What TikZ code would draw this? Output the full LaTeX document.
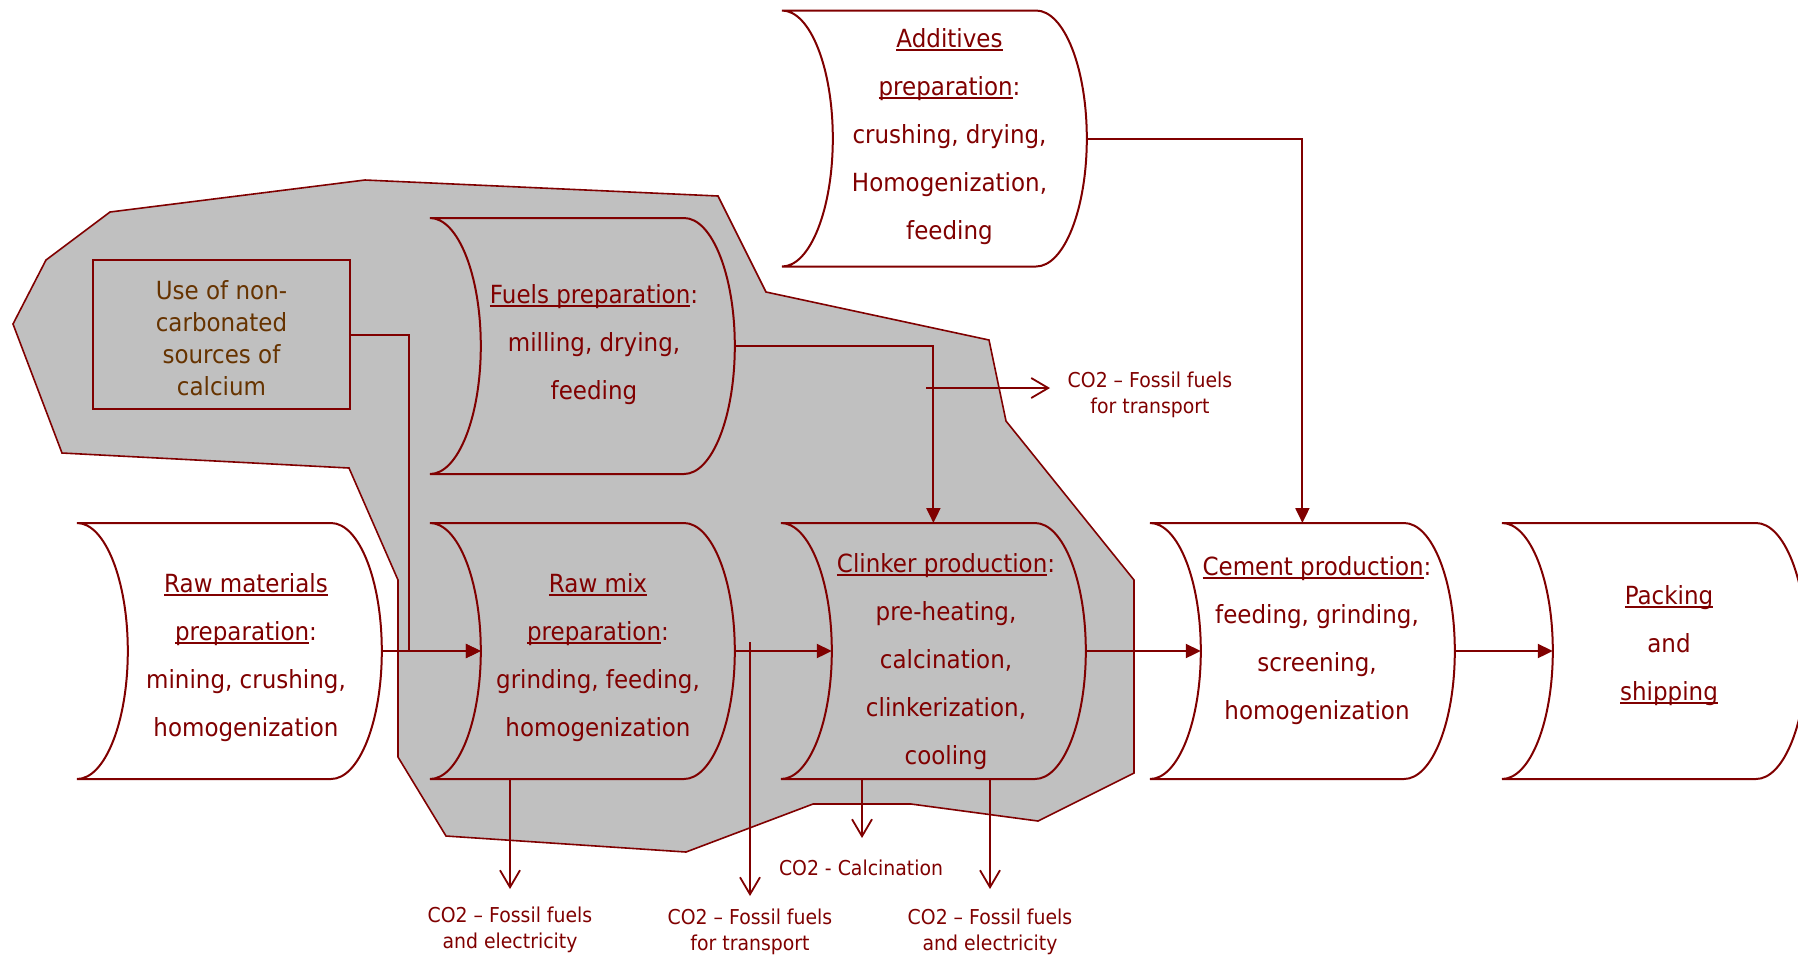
\documentclass[tikz,border=0pt]{standalone}
\usepackage{fontspec}
\setmainfont{DejaVu Sans}[FakeStretch=0.92]
\usetikzlibrary{arrows.meta,calc}
\definecolor{mred}{HTML}{800000}
\definecolor{mbrown}{HTML}{663300}
\definecolor{pgray}{HTML}{C0C0C0}
\newcommand\uln[1]{\setbox0\hbox{#1}\rlap{\rule[-1.6pt]{\wd0}{0.9pt}}\box0}
\newcommand\storbox[2]{\draw[outl, fill=#2] (#1.north west) -- ([xshift=-25.4pt]#1.north east)
  arc[start angle=90,end angle=-90,x radius=25.4pt,y radius=64pt] -- (#1.south west)
  arc[start angle=-90,end angle=90,x radius=25.4pt,y radius=64pt] -- cycle;}
\tikzset{
 stor/.style={minimum width=152.4pt, minimum height=128pt, inner sep=0pt, outer sep=0pt},
 boxtext/.style={align=center, text=mred, font=\fontsize{12.5pt}{24pt}\selectfont, inner sep=0pt},
 outl/.style={draw=mred, line width=1pt},
 conn/.style={draw=mred, line width=1pt, -{Triangle[length=7.5pt,width=7pt]}},
 co2/.style={draw=mred, line width=0.9pt, -{Straight Barb[length=8.5pt,width=10pt]}},
 co2text/.style={align=center, text=mred, font=\fontsize{10.25pt}{13pt}\selectfont, inner sep=0pt},
 usebox/.style={draw=mred, line width=1pt, minimum width=128.5pt, minimum height=74.5pt, inner sep=0pt},
 usetext/.style={align=center, text=mbrown, font=\fontsize{12.5pt}{16pt}\selectfont, inner sep=0pt},
}
\begin{document}
\begin{tikzpicture}[x=0.5pt,y=0.5pt]
\useasboundingbox (0,0) rectangle (1798,-955);
\fill[white] (0,0) rectangle (1798,-955);
\clip (0,0) rectangle (1798,-955);
% gray region
\draw[draw=mred, line width=0.8pt, fill=pgray] (365,-180) -- (718,-196) -- (766,-292) -- (989,-340)
  -- (1006,-421) -- (1134,-580) -- (1134,-773) -- (1038,-821) -- (911,-804) -- (813,-804)
  -- (686,-852) -- (446,-836) -- (398,-757) -- (398,-580) -- (349,-468) -- (62,-453)
  -- (13,-324) -- (46,-260) -- (110,-212) -- cycle;
% box frames
\node[stor] (rm) at (229.4,-651) {};
\node[stor] (rx) at (582.4,-651) {};
\node[stor] (cl) at (933.4,-651) {};
\node[stor] (ce) at (1302.4,-651) {};
\node[stor] (pk) at (1654.4,-651) {};
\node[stor] (fu) at (582.4,-346) {};
\node[stor] (ad) at (934.4,-138.5) {};
\storbox{rm}{white}
\storbox{rx}{pgray}
\storbox{cl}{pgray}
\storbox{ce}{white}
\storbox{pk}{white}
\storbox{fu}{pgray}
\storbox{ad}{white}
\node[usebox] (us) at (221.5,-334.5) {};
\node[usetext] (us-t) at (221.5,-338.5) {Use of non-\\carbonated\\sources of\\calcium};
% box texts
\node[boxtext] (rm-t) at (246,-657.5) {\uln{Raw materials}\\\uln{preparation}:\\mining, crushing,\\homogenization};
\node[boxtext] (rx-t) at (598,-657.5) {\uln{Raw mix}\\\uln{preparation}:\\grinding, feeding,\\homogenization};
\node[boxtext] (cl-t) at (946,-661.5) {\uln{Clinker production}:\\pre-heating,\\calcination,\\clinkerization,\\cooling};
\node[boxtext] (ce-t) at (1317,-640.5) {\uln{Cement production}:\\feeding, grinding,\\screening,\\homogenization};
\node[boxtext] (pk-t) at (1669,-645.5) {\uln{Packing}\\and\\\uln{shipping}};
\node[boxtext] (fu-t) at (594,-344.5) {\uln{Fuels preparation}:\\milling, drying,\\feeding};
\node[boxtext] (ad-t) at (949.5,-136.5) {\uln{Additives}\\\uln{preparation}:\\crushing, drying,\\Homogenization,\\feeding};
% CO2 labels
\node[co2text] (c1) at (510,-930) {CO2 \textendash{} Fossil fuels\\and electricity};
\node[co2text] (c2) at (750,-932) {CO2 \textendash{} Fossil fuels\\for transport};
\node[co2text] (c3) at (861,-868) {CO2 - Calcination};
\node[co2text] (c4) at (990,-932) {CO2 \textendash{} Fossil fuels\\and electricity};
\node[co2text] (c5) at (1150,-395) {CO2 \textendash{} Fossil fuels\\for transport};
% main connectors
\coordinate (j1) at (409,-651);
\draw[conn] (rm.east) -- ([xshift=25.4pt]rx.west);
\draw[conn] (us.east) -| (j1) -- ([xshift=25.4pt]rx.west);
\draw[conn] (rx.east) -- ([xshift=25.4pt]cl.west);
\draw[conn] (cl.east) -- ([xshift=25.4pt]ce.west);
\draw[conn] (ce.east) -- ([xshift=25.4pt]pk.west);
\draw[conn] (fu.east) -| (cl.north);
\draw[conn] (ad.east) -| (ce.north);
% CO2 arrows
\coordinate (t1) at (510,-889);
\coordinate (s2) at (750,-642);
\coordinate (t2) at (750,-896);
\coordinate (t3) at (862,-838);
\coordinate (t4) at (990,-889);
\coordinate (s5) at (926,-388);
\coordinate (t5) at (1050,-388);
\draw[co2] (rx.south -| t1) -- (t1);
\draw[co2] (s2) -- (t2);
\draw[co2] (cl.south -| t3) -- (t3);
\draw[co2] (cl.south -| t4) -- (t4);
\draw[co2] (s5) -- (t5);
\end{tikzpicture}
\end{document}
